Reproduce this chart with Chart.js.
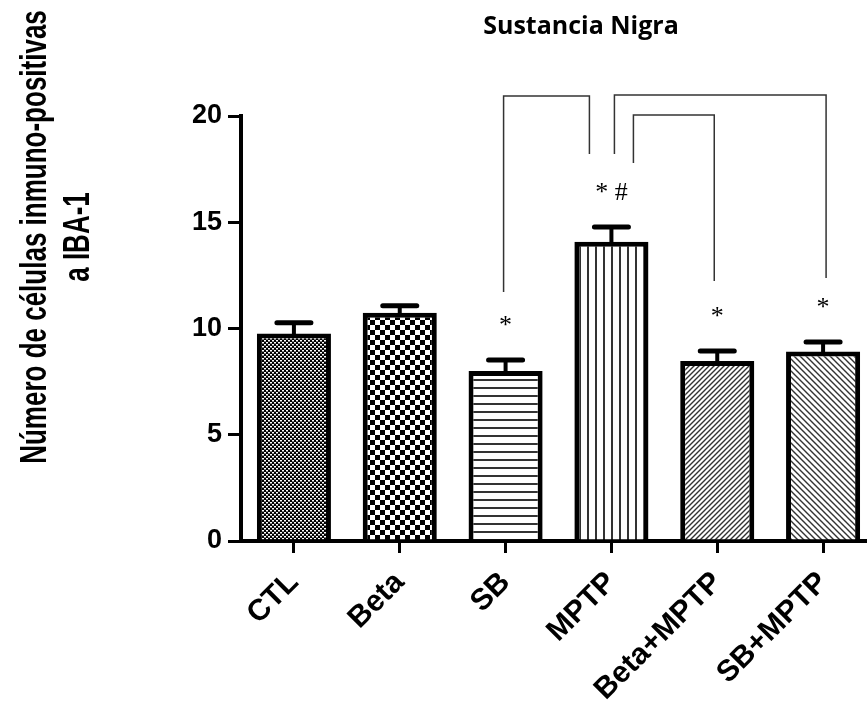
<!DOCTYPE html>
<html lang="es">
<head>
  <meta charset="UTF-8" />
  <title>Sustancia Nigra - IBA-1</title>
  <script src="https://cdn.jsdelivr.net/npm/chart.js"></script>
  <style>
    html, body { margin: 0; padding: 0; background: #fff; overflow: hidden; }
    canvas { display: block; }
  </style>
</head>
<body>
  <canvas id="ibaChart" width="880" height="710"></canvas>

  <script>
    // values (mean + SEM)
    const groups = ['CTL', 'Beta', 'SB', 'MPTP', 'Beta+MPTP', 'SB+MPTP'];
    const means = [9.77, 10.74, 8.0, 14.08, 8.47, 8.92];
    const sem = [0.5, 0.33, 0.52, 0.7, 0.47, 0.44];
    const marks = ['', '', '*', '* #', '*', '*'];
    const yTicks = [0, 5, 10, 15, 20];
    // [from group, to group, top, left end, right end] in axis units
    const brackets = [
      [2, 3, 20.94, 11.72, 18.21],
      [3, 5, 20.99, 18.21, 12.38],
      [3, 4, 20.05, 17.79, 12.24]
    ];
    const chartTitle = 'Sustancia Nigra';
    const yTitle = ['Número de células inmuno-positivas', 'a IBA-1'];

    function makePattern(size, draw) {
      const c = document.createElement('canvas');
      c.width = size;
      c.height = size;
      const p = c.getContext('2d');
      p.fillStyle = '#fff';
      p.fillRect(0, 0, size, size);
      draw(p, size);
      return p.createPattern(c, 'repeat');
    }

    const patterns = [
      makePattern(4, (p) => {
        p.fillStyle = '#000';
        p.fillRect(0, 0, 4, 4);
        p.fillStyle = '#fff';
        p.fillRect(0, 0, 2, 1.5);
        p.fillRect(2, 2, 2, 1.5);
      }),
      makePattern(10, (p) => {
        p.fillStyle = '#000';
        p.fillRect(0, 0, 5, 5);
        p.fillRect(5, 5, 5, 5);
      }),
      makePattern(8, (p) => {
        p.fillStyle = '#333';
        p.fillRect(0, 3, 8, 2);
      }),
      makePattern(8, (p) => {
        p.fillStyle = '#333';
        p.fillRect(3, 0, 2, 8);
      }),
      makePattern(5, (p, s) => {
        p.strokeStyle = '#333';
        p.lineWidth = 1.4;
        p.beginPath();
        p.moveTo(-1, s + 1); p.lineTo(s + 1, -1);
        p.moveTo(-1, 1); p.lineTo(1, -1);
        p.moveTo(s - 1, s + 1); p.lineTo(s + 1, s - 1);
        p.stroke();
      }),
      makePattern(6, (p, s) => {
        p.strokeStyle = '#333';
        p.lineWidth = 1.4;
        p.beginPath();
        p.moveTo(-1, -1); p.lineTo(s + 1, s + 1);
        p.moveTo(-1, s - 1); p.lineTo(1, s + 1);
        p.moveTo(s - 1, -1); p.lineTo(s + 1, 1);
        p.stroke();
      })
    ];

    // error bars, stars, brackets and titles drawn on top
    const extras = {
      id: 'extras',
      afterDraw(chart) {
        const ctx = chart.ctx;
        const x = chart.scales.x;
        const y = chart.scales.y;
        ctx.save();

        ctx.strokeStyle = '#000';
        groups.forEach((g, i) => {
          const cx = x.getPixelForValue(i);
          const top = y.getPixelForValue(means[i]);
          const cap = y.getPixelForValue(means[i] + sem[i]);
          ctx.lineCap = 'butt';
          ctx.lineWidth = 4;
          ctx.beginPath();
          ctx.moveTo(cx, top + 2);
          ctx.lineTo(cx, cap);
          ctx.stroke();
          ctx.lineCap = 'round';
          ctx.lineWidth = 5;
          ctx.beginPath();
          ctx.moveTo(cx - 17, cap);
          ctx.lineTo(cx + 17, cap);
          ctx.stroke();

          if (marks[i]) {
            ctx.fillStyle = '#000';
            ctx.font = '26px "Liberation Serif"';
            ctx.textAlign = 'center';
            ctx.textBaseline = 'middle';
            ctx.fillText(marks[i], cx, cap - 34);
          }
        });

        const offsets = [[-2, -22], [3, 3], [22, -3]];
        ctx.strokeStyle = '#333';
        ctx.lineWidth = 1.5;
        ctx.lineCap = 'butt';
        brackets.forEach((b, k) => {
          const x1 = x.getPixelForValue(b[0]) + offsets[k][0];
          const x2 = x.getPixelForValue(b[1]) + offsets[k][1];
          ctx.beginPath();
          ctx.moveTo(x1, y.getPixelForValue(b[3]));
          ctx.lineTo(x1, y.getPixelForValue(b[2]));
          ctx.lineTo(x2, y.getPixelForValue(b[2]));
          ctx.lineTo(x2, y.getPixelForValue(b[4]));
          ctx.stroke();
        });

        ctx.fillStyle = '#000';
        ctx.font = 'bold 25px "Open Sans"';
        ctx.textAlign = 'center';
        ctx.textBaseline = 'alphabetic';
        ctx.fillText(chartTitle, 581, 34);

        ctx.font = 'bold 26px "Liberation Sans"';
        [46, 89].forEach((bx, k) => {
          ctx.save();
          ctx.translate(bx, 237);
          ctx.rotate(-Math.PI / 2);
          ctx.scale(1, 1.45);
          ctx.fillText(yTitle[k], 0, 0);
          ctx.restore();
        });

        ctx.restore();
      }
    };

    const ctx = document.getElementById('ibaChart').getContext('2d');
    new Chart(ctx, {
      type: 'bar',
      data: {
        labels: groups,
        datasets: [{
          data: means,
          backgroundColor: patterns,
          borderColor: '#000',
          borderWidth: 5,
          barPercentage: 0.7,
          categoryPercentage: 1
        }]
      },
      options: {
        responsive: false,
        animation: false,
        layout: { padding: { top: 116, right: 4, left: 0, bottom: 0 } },
        plugins: {
          legend: { display: false },
          tooltip: { enabled: false }
        },
        scales: {
          x: {
            offset: true,
            grid: { offset: false, drawOnChartArea: false, color: '#000', lineWidth: 3, tickLength: 12 },
            border: { color: '#000', width: 4 },
            ticks: {
              color: '#000',
              font: { family: 'Liberation Sans', weight: 'bold', size: 30 },
              minRotation: 45,
              maxRotation: 45,
              autoSkip: false,
              padding: 12
            },
            afterFit: (s) => { s.height = 169; }
          },
          y: {
            min: 0,
            max: 20,
            grid: { drawOnChartArea: false, color: '#000', lineWidth: 3, tickLength: 13 },
            border: { color: '#000', width: 4 },
            ticks: {
              color: '#000',
              font: { family: 'Liberation Sans', weight: 'bold', size: 27 },
              padding: 6
            },
            afterBuildTicks: (s) => { s.ticks = yTicks.map(v => ({ value: v })); },
            afterFit: (s) => { s.width = 241; }
          }
        }
      },
      plugins: [extras]
    });
  </script>
</body>
</html>
